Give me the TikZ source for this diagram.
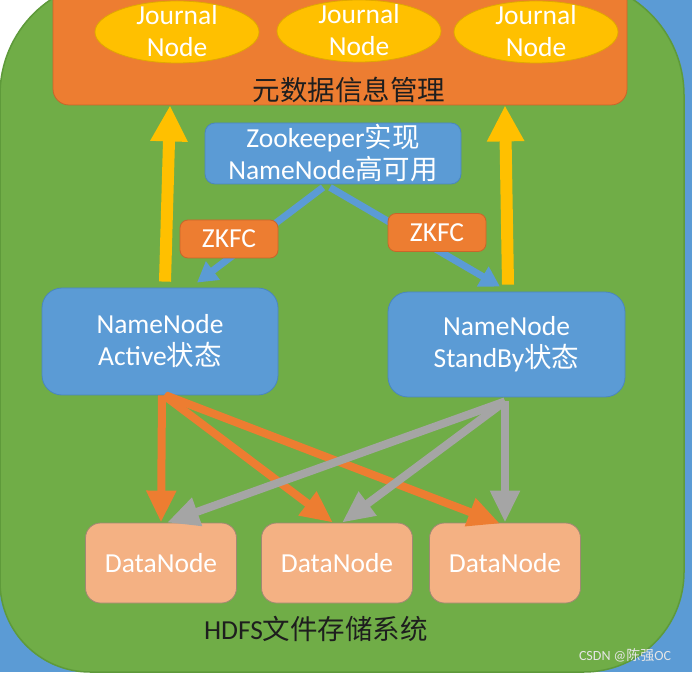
\documentclass[tikz,border=0pt]{standalone}
\usepackage{fontspec}
\setmainfont{Carlito}
\newfontfamily\cjk{Noto Sans CJK SC}
\usetikzlibrary{arrows.meta,calc,shapes.geometric}
\definecolor{bgblue}{HTML}{5B9BD5}
\definecolor{bggreen}{HTML}{70AD47}
\definecolor{greenedge}{HTML}{5E9A3A}
\definecolor{orangec}{HTML}{ED7D31}
\definecolor{orangeedge}{HTML}{C9652A}
\definecolor{yellowc}{HTML}{FFC000}
\definecolor{yellowedge}{HTML}{E0A800}
\definecolor{boxblue}{HTML}{5B9BD5}
\definecolor{blueedge}{HTML}{4A86BE}
\definecolor{dnfill}{HTML}{F4B183}
\definecolor{dnedge}{HTML}{A08872}
\definecolor{grayc}{HTML}{A5A5A5}
\definecolor{darktext}{HTML}{1E1E1E}
\begin{document}
\begin{tikzpicture}[x=1pt,y=1pt,
  txt/.style={font=\fontsize{27.5}{32}\selectfont, text=white, align=center, inner sep=0pt},
  darktxt/.style={font=\fontsize{27.5}{32}\selectfont, text=darktext, inner sep=0pt},
  jn/.style={ellipse, fill=yellowc, draw=yellowedge, line width=0.8pt, minimum width=164pt, minimum height=62pt, inner sep=0pt},
  metabox/.style={rectangle, rounded corners=16pt, fill=orangec, draw=orangeedge, line width=0.8pt, minimum width=574pt, minimum height=120pt, inner sep=0pt},
  bluebox/.style={txt, rectangle, fill=boxblue, draw=blueedge, line width=0.8pt},
  zkfc/.style={txt, rectangle, rounded corners=8pt, fill=orangec, draw=orangeedge, line width=0.8pt, minimum width=98pt, minimum height=38pt},
  dn/.style={txt, rectangle, rounded corners=15pt, fill=dnfill, draw=dnedge, line width=0.8pt, minimum width=151pt, minimum height=80pt},
  yarr/.style={draw=yellowc, line width=12pt, -{Triangle[width=35pt,length=36pt]}},
  barr/.style={draw=bgblue, line width=7pt, -{Triangle[width=22pt,length=20pt]}},
  oarr/.style={draw=orangec, line width=8pt, -{Triangle[width=28pt,length=32pt]}},
  garr/.style={draw=grayc, line width=8pt, -{Triangle[width=28pt,length=32pt]}}
]
\useasboundingbox (0,0) rectangle (692,672);
\clip (0,0) rectangle (692,672);
% background
\fill[bgblue] (0,0) rectangle (692,672);
\fill[white] (0,560) rectangle (130,672);
\filldraw[fill=bggreen, draw=greenedge, line width=1.5pt]
  (0,346) [rounded corners=90pt] -- (0,0) -- (342,0)
  [rounded corners=100pt] -- (684,0) -- (684,346)
  [rounded corners=115pt] -- (684,692) -- (0,692) -- cycle;

% metadata box with journal nodes
\node[metabox] (meta) at (340,627) {};
\node[jn] (j1) at (177,640) {};
\node[jn] (j2) at (359,641) {};
\node[jn] (j3) at (536,640) {};
\node[txt] (j1t) at (177,641) {Journal\\Node};
\node[txt] (j2t) at (359,642) {Journal\\Node};
\node[txt] (j3t) at (536,641) {Journal\\Node};
\node[darktxt] (metat) at (349,582) {\cjk 元数据信息管理};

% zookeeper
\node[bluebox, rounded corners=10pt, minimum width=256pt, minimum height=61pt] (zk) at (333,518.5)
  {Zookeeper{\cjk 实现}\\NameNode{\cjk 高可用}};

% namenodes
\node[bluebox, rounded corners=20pt, minimum width=236pt, minimum height=107pt] (act) at (160,330.5)
  {NameNode\\Active{\cjk 状态}};
\node[bluebox, rounded corners=20pt, minimum width=237pt, minimum height=105pt] (st) at (506.5,327.5)
  {NameNode\\StandBy{\cjk 状态}};

% yellow arrows to metadata box
\draw[yarr] ([xshift=5pt,yshift=6pt]act.north) -- ([xshift=-170pt]meta.south);
\draw[yarr] ([xshift=1.5pt,yshift=7pt]st.north) -- ([xshift=165pt]meta.south);

% blue arrows through ZKFC
\draw[barr] ([xshift=-10pt,yshift=-3pt]zk.south) -- ([xshift=37pt,yshift=5pt]act.north);
\draw[barr] ([xshift=-3pt,yshift=-3pt]zk.south) -- ([xshift=-6.5pt,yshift=5pt]st.north);
\node[zkfc] (zkfc1) at (229,433) {ZKFC};
\node[zkfc] (zkfc2) at (437,439.5) {ZKFC};

% datanodes
\node[dn] (dn1) at (161,109) {DataNode};
\node[dn] (dn2) at (337,109) {DataNode};
\node[dn] (dn3) at (505,109) {DataNode};

% active -> datanodes
\draw[oarr] ([xshift=2pt]act.south) -- ([xshift=0pt]dn1.north);
\draw[oarr] ([xshift=4pt]act.south) -- ([xshift=-4pt]dn2.north);
\draw[oarr] ([xshift=6pt]act.south) -- ([xshift=-5pt,yshift=-1pt]dn3.north);
% standby -> datanodes
\draw[garr] ([xshift=-1.5pt,yshift=-4pt]st.south) -- ([xshift=6pt]dn1.north);
\draw[garr] ([xshift=-1.5pt,yshift=-4pt]st.south) -- ([xshift=5pt]dn2.north);
\draw[garr] ([xshift=-1.5pt,yshift=-4pt]st.south) -- ([xshift=0pt]dn3.north);

% caption
\node[darktxt] (hdfs) at (316,43) {HDFS{\cjk 文件存储系统}};

% watermark
\node[font=\fontsize{14}{14}\selectfont, text=white!80!gray, inner sep=0pt] (wm) at (625,17) {CSDN @{\cjk 陈强}OC};
\end{tikzpicture}
\end{document}
